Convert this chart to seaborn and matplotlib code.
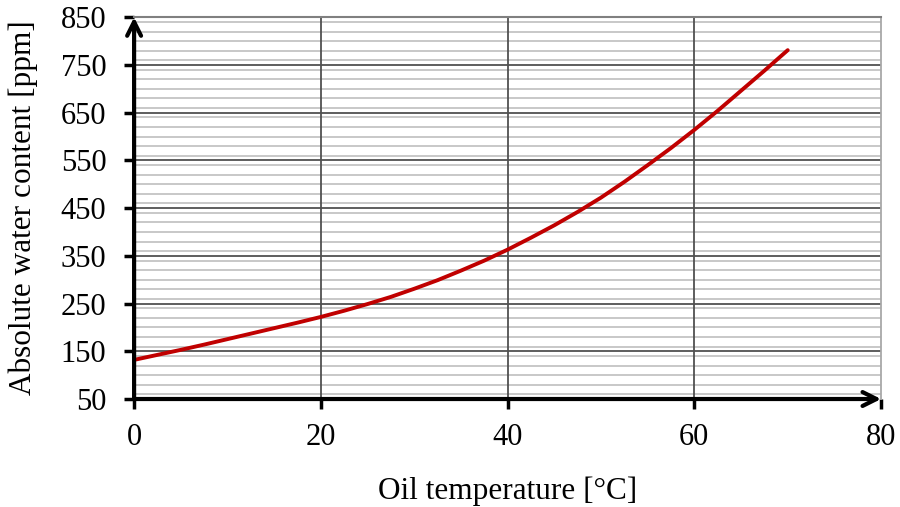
import numpy as np
import pandas as pd
import seaborn as sns
import matplotlib.pyplot as plt
from matplotlib.ticker import MultipleLocator

# values
oil_temp = [0, 2.5, 5, 7.5, 10, 12.5, 15, 17.5, 20, 22.5, 25, 27.5, 30, 32.5, 35,
            37.5, 40, 42.5, 45, 47.5, 50, 52.5, 55, 57.5, 60, 62.5, 65, 67.5, 70]
water_ppm = [132, 142.5, 153, 164, 175.5, 187, 198.5, 210, 222, 235, 249, 264, 281, 299, 319,
             340, 363, 388, 414, 442, 472, 505, 540, 576, 614, 654, 696, 738, 781]
x_ticks = [0, 20, 40, 60, 80]
y_ticks = [50, 150, 250, 350, 450, 550, 650, 750, 850]

df = pd.DataFrame({'temp': oil_temp, 'ppm': water_ppm})

sns.set_style('white')
plt.rcParams['font.family'] = ['Liberation Serif', 'DejaVu Serif']
plt.rcParams['text.color'] = 'black'
plt.rcParams['axes.labelcolor'] = 'black'
plt.rcParams['xtick.color'] = 'black'
plt.rcParams['ytick.color'] = 'black'

fig = plt.figure(figsize=(9, 5.07), dpi=100)
ax = fig.add_axes([0.149, 0.213, 0.830, 0.753])

ax.set_xlim(0, 80)
ax.set_ylim(50, 850)
ax.set_xticks(x_ticks)
ax.set_yticks(y_ticks)
ax.yaxis.set_minor_locator(MultipleLocator(20))

# light minor lines under darker major lines
ax.grid(which='minor', axis='y', color='#c8c8c8', lw=1.4, zorder=0.5)
ax.set_axisbelow(True)
for yv in y_ticks[1:-1]:
    ax.axhline(yv, color='#505050', lw=1.3, zorder=1)
for xv in x_ticks[1:-1]:
    ax.axvline(xv, color='#505050', lw=1.3, zorder=1)

sns.lineplot(data=df, x='temp', y='ppm', color='#c00000', lw=2.8, ax=ax, zorder=3)

ax.spines['top'].set_color('#808080')
ax.spines['top'].set_linewidth(1.5)
ax.spines['right'].set_color('#a8a8a8')
ax.spines['right'].set_linewidth(1.3)
for side in ['left', 'bottom']:
    ax.spines[side].set_visible(False)

# thick arrowed axes
for end in [(0, 850), (80, 50)]:
    ax.annotate('', xy=end, xytext=(0, 50), xycoords='data',
                arrowprops=dict(arrowstyle='->', lw=3, color='black',
                                mutation_scale=25, shrinkA=0, shrinkB=0),
                annotation_clip=False, zorder=4)

ax.tick_params(axis='both', which='major', direction='out', length=7,
               width=2.5, color='black', labelsize=22)
ax.tick_params(axis='x', pad=10)
ax.tick_params(axis='y', pad=13)
ax.tick_params(axis='y', which='minor', length=0)
ax.tick_params(left=True, bottom=True)

ax.set_xlabel('Oil temperature [°C]', fontsize=22.5, labelpad=18)
ax.set_ylabel('Absolute water content [ppm]', fontsize=22.5, labelpad=16)

fig.savefig('out.png', dpi=100)
